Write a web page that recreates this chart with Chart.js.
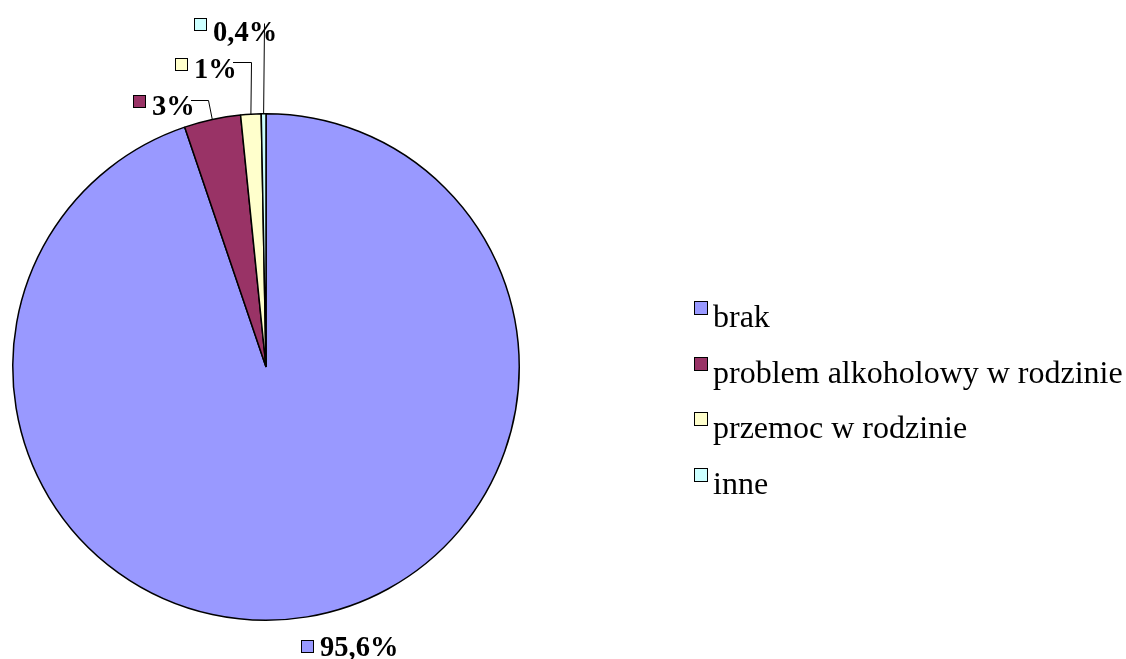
<!DOCTYPE html>
<html>
<head>
<meta charset="utf-8">
<script src="https://cdn.jsdelivr.net/npm/chart.js@4.4.1/dist/chart.umd.min.js"></script>
<style>
	html, body { margin: 0; padding: 0; background: #fff; overflow: hidden; }
	#wrap { width: 1126px; height: 659px; position: relative; }
</style>
</head>
<body>
<div id="wrap"><canvas id="myChart"></canvas></div>
<script>
const categories = ['brak', 'problem alkoholowy w rodzinie', 'przemoc w rodzinie', 'inne']
const values = [94.8, 3.6, 1.3, 0.3]
const valueLabels = ['95,6%', '3%', '1%', '0,4%']
const colors = ['#9999FF', '#993366', '#FFFFCC', '#CCFFFF']

// data label placement: square corner, text baseline, leader elbow
const labelSpots = [
	{ sq: [301, 640], base: 656, elbow: null },
	{ sq: [133, 95], base: 115, elbow: { dx: -4, y: 100, endX: 191 } },
	{ sq: [175, 58], base: 78, elbow: { dx: 0, y: 62, endX: 233 } },
	{ sq: [194, 18], base: 41, elbow: { dx: 0, y: 23, endX: null } },
]

const FONT = '"Liberation Serif", "Times New Roman", serif'

const pieLabels = {
	id: 'pieLabels',
	afterDatasetsDraw(chart) {
		const ctx = chart.ctx
		const arcs = chart.getDatasetMeta(0).data
		ctx.save()
		arcs.forEach((arc, i) => {
			const spot = labelSpots[i]
			const { x, y, startAngle, endAngle, outerRadius } = arc.getProps(['x', 'y', 'startAngle', 'endAngle', 'outerRadius'], true)
			const mid = (startAngle + endAngle) / 2
			const rx = x + Math.cos(mid) * outerRadius
			const ry = y + Math.sin(mid) * outerRadius
			if (spot.elbow) {
				ctx.strokeStyle = '#000'
				ctx.lineWidth = 1
				ctx.beginPath()
				ctx.moveTo(rx, ry)
				const ex = Math.round(rx + spot.elbow.dx) + 0.5
				ctx.lineTo(ex, spot.elbow.y + 0.5)
				if (spot.elbow.endX !== null) ctx.lineTo(spot.elbow.endX, spot.elbow.y + 0.5)
				ctx.stroke()
			}
			// square
			ctx.fillStyle = colors[i]
			ctx.fillRect(spot.sq[0], spot.sq[1], 13, 13)
			ctx.strokeStyle = '#000'
			ctx.lineWidth = 1
			ctx.strokeRect(spot.sq[0] + 0.5, spot.sq[1] + 0.5, 12, 12)
			// text
			ctx.fillStyle = '#000'
			ctx.font = 'bold 28.5px ' + FONT
			ctx.textBaseline = 'alphabetic'
			ctx.textAlign = 'left'
			ctx.fillText(valueLabels[i], spot.sq[0] + 19, spot.base)
		})
		ctx.restore()
	},
}

const sideLegend = {
	id: 'sideLegend',
	afterDraw(chart) {
		const ctx = chart.ctx
		ctx.save()
		ctx.font = '32px ' + FONT
		ctx.textBaseline = 'alphabetic'
		categories.forEach((name, i) => {
			const base = 327 + i * 55.7
			const top = Math.round(base - 26)
			ctx.fillStyle = colors[i]
			ctx.fillRect(694, top, 14, 14)
			ctx.strokeStyle = '#000'
			ctx.lineWidth = 1
			ctx.strokeRect(694.5, top + 0.5, 13, 13)
			ctx.fillStyle = '#000'
			ctx.fillText(name, 713, base)
		})
		ctx.restore()
	},
}

const ctx = document.getElementById('myChart')

new Chart(ctx, {
	type: 'pie',
	data: {
		labels: categories,
		datasets: [
			{
				data: values,
				backgroundColor: colors,
				borderColor: '#000',
				borderWidth: 1.5,
				hoverOffset: 0,
			},
		],
	},
	options: {
		responsive: true,
		maintainAspectRatio: false,
		animation: false,
		layout: {
			padding: { left: 12, right: 606, top: 113, bottom: 38 },
		},
		plugins: {
			legend: { display: false },
			tooltip: { enabled: false },
		},
	},
	plugins: [pieLabels, sideLegend],
})
</script>
</body>
</html>
